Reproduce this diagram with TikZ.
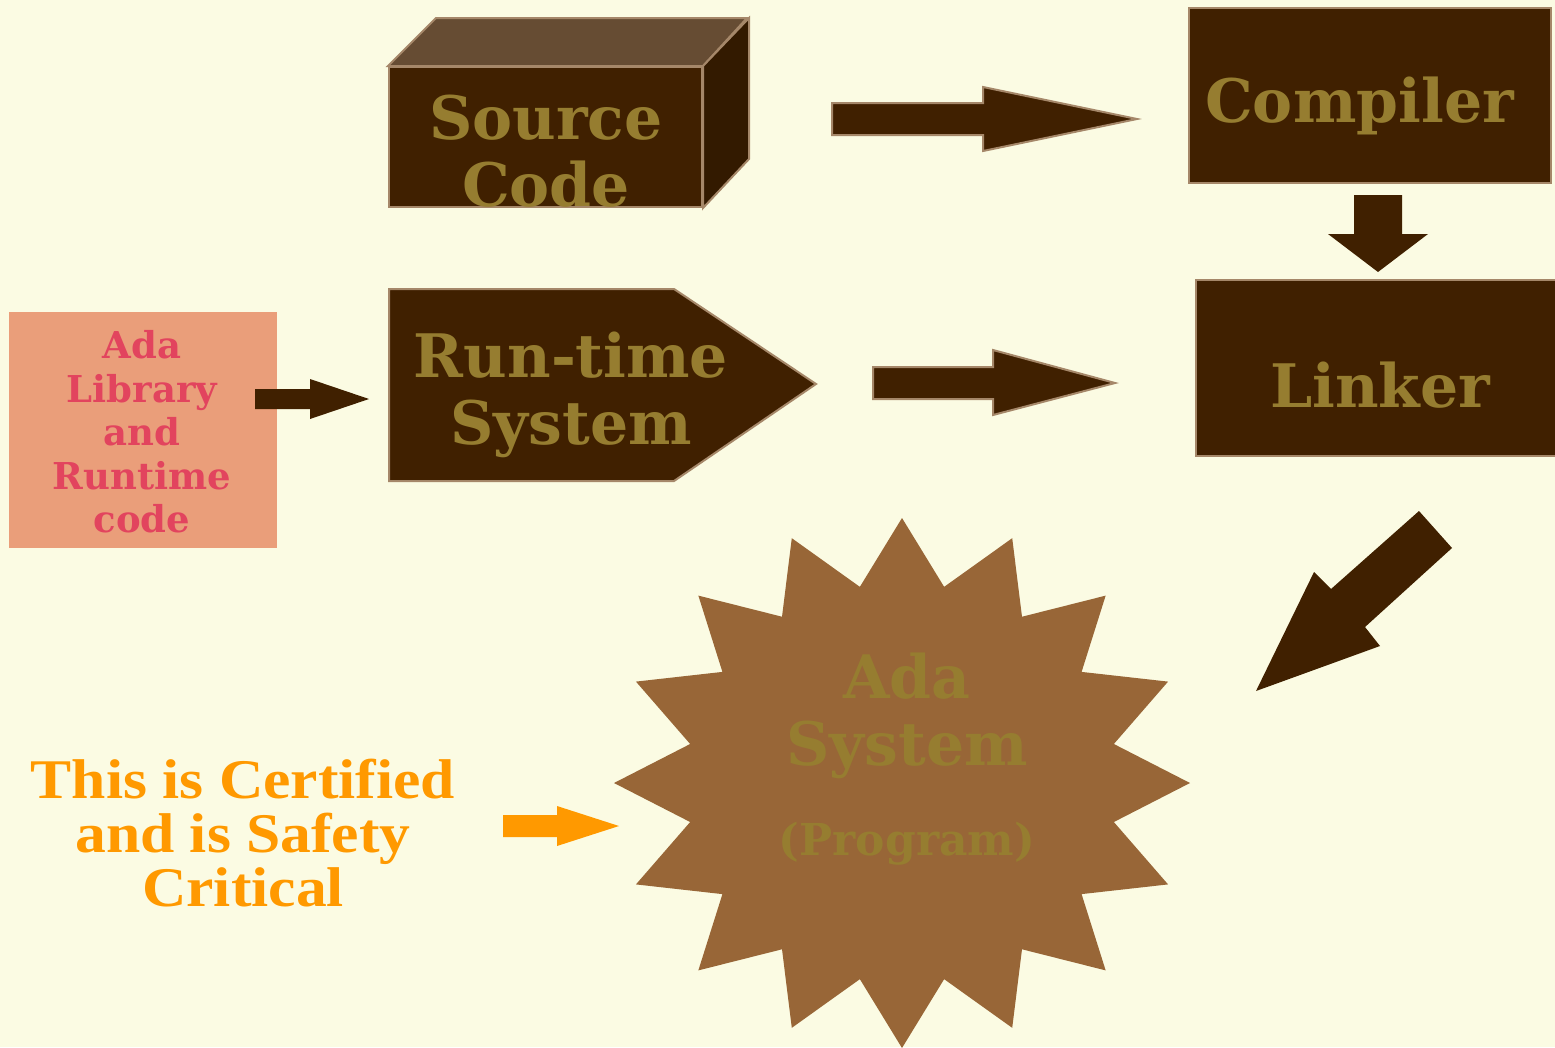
\documentclass[tikz,border=0pt]{standalone}
\usepackage{fontspec}
\setmainfont{DejaVu Serif}
\newfontfamily\notefont[FakeStretch=1.1]{Liberation Serif}

\definecolor{paper}{RGB}{251,251,227}
\definecolor{umber}{RGB}{64,32,0}
\definecolor{umbertop}{RGB}{102,76,51}
\definecolor{umberside}{RGB}{51,26,0}
\definecolor{edgetan}{RGB}{165,135,105}
\definecolor{gold}{RGB}{150,125,48}
\definecolor{salmon}{RGB}{234,158,122}
\definecolor{rose}{RGB}{226,68,94}
\definecolor{starbrown}{RGB}{152,102,55}
\definecolor{amber}{RGB}{255,153,0}

\begin{document}
\begin{tikzpicture}[x=1pt,y=-1pt,
  box/.style={draw=edgetan, line width=2pt, fill=umber, inner sep=0pt},
  bigtext/.style={text=gold, inner sep=0pt, align=center,
    font=\fontsize{60}{67}\selectfont\bfseries},
  libtext/.style={text=rose, inner sep=0pt, align=center,
    font=\fontsize{37}{43.5}\selectfont\bfseries},
  notetext/.style={text=amber, inner sep=0pt, align=center,
    font=\notefont\fontsize{56}{54}\selectfont\bfseries},
  blockarrow/.style={fill=umber, draw=edgetan, line width=2pt, line join=miter},
  flatarrow/.style={fill=umber, draw=none}]

\fill[paper] (0,0) rectangle (1555,1047);
\useasboundingbox (0,0) rectangle (1555,1047);
\clip (0,0) rectangle (1555,1047);

% source code block (front face, top face, side face)
\node[box, minimum width=313pt, minimum height=140pt] (src) at (545.5,137) {};
\filldraw[fill=umbertop, draw=edgetan, line width=2pt, line join=miter]
  (src.north west) -- ++(48,-48) -- ++(311,0) -- (src.north east) -- cycle;
\filldraw[fill=umberside, draw=edgetan, line width=2pt, line join=miter]
  (src.north east) -- ++(46,-48) -- ++(0,141) -- (src.south east) -- cycle;
\node[bigtext] (srctext) at (546,151) {Source\\Code};

% compiler
\node[box, minimum width=362pt, minimum height=175pt] (comp) at (1370,95.5) {};
\node[bigtext, anchor=base] (comptext) at (1359.5,122) {Compiler};

% linker
\node[box, minimum width=369pt, minimum height=176pt] (link) at (1380.5,368) {};
\node[bigtext, anchor=base] (linktext) at (1380,407) {Linker};

% run-time system pentagon
\coordinate (rtsnw) at (389,289);
\coordinate (rtstip) at (816,384);
\filldraw[box, line join=miter] (rtsnw) -- (674,289) -- (rtstip) -- (674,481) -- (389,481) -- cycle;
\node[bigtext] (rtstext) at (571,395) {Run-time\\System};

% library box
\node[fill=salmon, minimum width=268pt, minimum height=236pt, inner sep=0pt] (lib) at (143,430) {};
\node[libtext] (libtext) at (142,432) {Ada\\Library\\and\\Runtime\\code};

% ada system star
\fill[starbrown, shift={(902,783)}] (90:288 and 265)
  \foreach \k in {0,...,15} {
    -- ({101.25+22.5*\k}:216 and 200) -- ({112.5+22.5*\k}:288 and 265)
  } -- cycle;
\node[bigtext] (ada) at (907,759)
  {Ada\\System\\[23pt]{\fontsize{44}{50}\selectfont(Program)}};

% certification note
\node[notetext] (note) at (243,833) {This is Certified\\and is Safety\\Critical};

% block arrows
\filldraw[blockarrow] (832,103) -- (983,103) -- (983,87) -- (1137,119)
  -- (983,151) -- (983,135) -- (832,135) -- cycle;
\filldraw[blockarrow] (873,367) -- (993,367) -- (993,350) -- (1115,383)
  -- (993,415) -- (993,399) -- (873,399) -- cycle;
\fill[flatarrow] (1354,195) -- (1402,195) -- (1402,234) -- (1428,234)
  -- (1378,272) -- (1328,234) -- (1354,234) -- cycle;
\fill[flatarrow] (255,389) -- (310,389) -- (310,379) -- (369,399)
  -- (310,419) -- (310,409) -- (255,409) -- cycle;
\fill[flatarrow] (1419,511) -- (1452,548) -- (1365,627) -- (1380,646)
  -- (1256,691) -- (1314,572) -- (1331,589) -- cycle;
\fill[amber] (503,815) -- (557,815) -- (557,806) -- (619,826)
  -- (557,846) -- (557,837) -- (503,837) -- cycle;
\end{tikzpicture}
\end{document}
